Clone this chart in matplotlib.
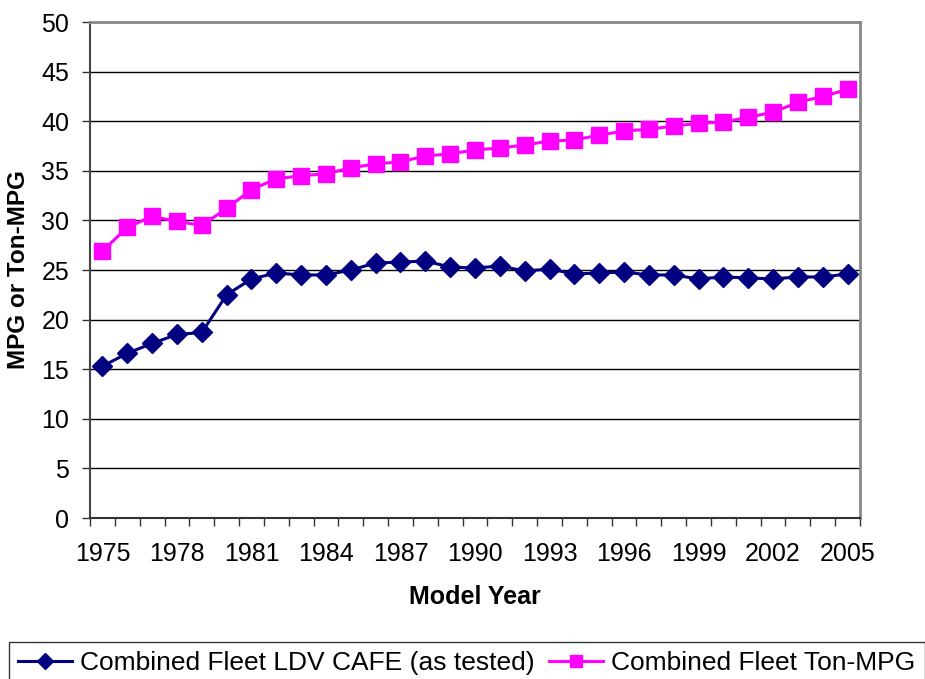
import numpy as np
import matplotlib.pyplot as plt

plt.rcParams['font.family'] = ['Liberation Sans', 'DejaVu Sans']

years = list(range(1975, 2006))
cafe = [15.3, 16.6, 17.6, 18.5, 18.7, 22.5, 24.1, 24.7, 24.5, 24.5,
        25.0, 25.7, 25.8, 25.9, 25.3, 25.2, 25.4, 24.9, 25.1, 24.6,
        24.7, 24.8, 24.5, 24.5, 24.1, 24.3, 24.2, 24.1, 24.3, 24.3, 24.6]
ton_mpg = [26.9, 29.3, 30.4, 29.9, 29.5, 31.2, 33.1, 34.2, 34.5, 34.7,
           35.3, 35.7, 35.9, 36.5, 36.7, 37.1, 37.3, 37.6, 38.0, 38.1,
           38.6, 39.0, 39.2, 39.5, 39.8, 39.9, 40.4, 40.9, 41.9, 42.5, 43.2]
year_labels = list(range(1975, 2006, 3))

fig = plt.figure(figsize=(9.25, 6.79), dpi=100)
ax = fig.add_axes([90 / 925, 161 / 679, 770 / 925, 496 / 679])

ax.plot(years, cafe, color='#000080', marker='D', markersize=10, lw=2.2,
        label='Combined Fleet LDV CAFE (as tested)', zorder=3)
ax.plot(years, ton_mpg, color='#FF00FF', marker='s', markersize=11, lw=2.2,
        label='Combined Fleet Ton-MPG', zorder=3)

ax.set_xlim(1974.5, 2005.5)
ax.set_ylim(0, 50)
ax.set_yticks(np.arange(0, 51, 5))
ax.yaxis.grid(True, color='black', lw=1)
ax.set_axisbelow(True)

# category boundaries get tick marks, labels sit at category centres
ax.set_xticks(np.arange(1974.5, 2006, 1))
ax.set_xticklabels([])
ax.set_xticks(year_labels, minor=True)
ax.set_xticklabels([str(y) for y in year_labels], minor=True)
ax.tick_params(axis='x', which='major', length=6, width=1, color='#333333')
ax.tick_params(axis='x', which='minor', length=0, pad=17, labelsize=18)
ax.tick_params(axis='y', length=6, width=1, color='#333333', labelsize=18, pad=9)

ax.spines['top'].set_color('#888888')
ax.spines['top'].set_linewidth(2)
ax.spines['right'].set_color('#888888')
ax.spines['right'].set_linewidth(2)
ax.spines['left'].set_color('#444444')
ax.spines['left'].set_linewidth(1.5)
ax.spines['bottom'].set_color('#333333')
ax.spines['bottom'].set_linewidth(1.5)

ax.set_xlabel('Model Year', fontsize=18, fontweight='bold', labelpad=14)
ax.set_ylabel('MPG or Ton-MPG', fontsize=17.5, fontweight='bold', labelpad=8)

fig.legend(loc='upper left', bbox_to_anchor=(9 / 925, 1 - 642 / 679),
           ncol=2, frameon=True, fancybox=False, edgecolor='black',
           fontsize=19, handlelength=2.05, handletextpad=0.3,
           columnspacing=0.55, borderaxespad=0, borderpad=0.35,
           markerscale=0.85)

fig.savefig('out.png', dpi=100)
